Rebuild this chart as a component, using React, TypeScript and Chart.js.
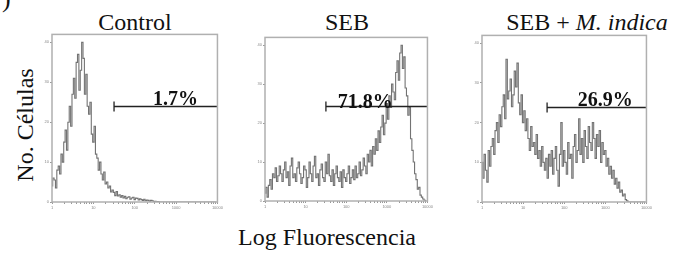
import React, { useEffect, useRef } from "react";
import { Chart, registerables } from "chart.js";

Chart.register(...registerables);

// ---------- DATA ----------
// Channel counts (120 channels = 4 log decades, 30 channels per decade)
const controlCounts = [
  4, 6, 5.5, 3.5, 8, 9, 7, 12, 10, 15,
  18, 13, 20, 24, 19, 27, 31, 26, 35, 37,
  28, 33, 40, 36, 27, 32, 24, 22, 25, 17,
  15, 19, 12, 11, 8, 10, 7, 5.5, 7.5, 4.5,
  5, 3.5, 4, 2.5, 3, 2.4, 1.6, 2.6, 1.5, 1.8,
  1.2, 1.6, 1, 1.4, 0.8, 1.2, 1.3, 0.7, 1, 1.2,
  0.6, 1, 0.9, 0.5, 0.8, 0.6, 0.4, 0.7, 0.3, 0.5,
  0.4, 0.2, 0.4, 0.3, 0.1, 0.2, 0, 0.1, 0, 0,
  0, 0, 0, 0, 0, 0, 0, 0, 0, 0,
  0, 0, 0, 0, 0, 0, 0, 0, 0, 0,
  0, 0, 0, 0, 0, 0, 0, 0, 0, 0,
  0, 0, 0, 0, 0, 0, 0, 0, 0, 0,
];

const sebCounts = [
  2, 3.5, 1, 4, 5.5, 3, 7, 6, 8.5, 5,
  6.5, 9, 7, 5, 8, 10, 6, 7.5, 4, 9,
  11, 6, 7, 5, 8.5, 10, 7, 4.5, 6, 9,
  8, 3.5, 6, 10, 7, 5, 9, 11.5, 6, 7,
  4, 8, 9.5, 6, 5, 10, 7, 12, 6.5, 5,
  8, 4, 7, 9, 6, 5, 7.5, 3.5, 8, 6,
  5, 7, 9, 4.5, 6, 8, 5.5, 9, 6, 7,
  10, 6.5, 8, 11, 9, 7, 12, 10, 13, 9,
  14, 12, 16, 13, 18, 15, 19, 22, 17, 20,
  25, 21, 27, 24, 30, 28, 26, 33, 36, 31,
  38, 40, 34, 37, 29, 27, 22, 24, 16, 13,
  10, 7, 5.5, 3, 3.5, 1.5, 1, 0.5, 0.2, 0,
];

const sebIndicaCounts = [
  10, 6, 12, 8, 5, 13, 9, 14, 16, 12,
  18, 20, 15, 22, 19, 24, 27, 21, 36, 26,
  28, 31, 24, 27, 33, 29, 35, 25, 22, 27,
  20, 23, 18, 21, 16, 13, 19, 14, 15, 12,
  17, 11, 13, 9, 14, 10, 8, 11, 6, 12,
  9, 13, 7, 11, 14, 8, 4, 12, 20, 9,
  13, 10, 7, 15, 11, 12, 6, 14, 17, 10,
  13, 21, 12, 16, 10, 18, 14, 11, 19, 15,
  13, 20, 16, 11, 17, 14, 18, 10, 15, 12,
  13, 9, 11, 7, 9, 6, 8, 4.5, 6, 3.5,
  5, 2.5, 3, 1.5, 2, 0.6, 0.3, 0, 0, 0,
  0, 0, 0, 0, 0, 0, 0, 0, 0, 0,
];

const decadeLabels = ["1", "10", "100", "1000", "10000"];
const yTickValues = [0, 10, 20, 30, 40];
const gatePercents = ["1.7%", "71.8%", "26.9%"];
const gateStarts = [45, 45, 47.5];
const gateLevels = [24, 24.4, 24];
const gateLabelCenters = [89.5, 74, 90];

// ---------- LAYOUT ----------
const AXIS_W = 8;
const AXIS_H = 10;
const PAD = 2;
const panels = [
  { counts: controlCounts, box: { l: 52, t: 33, r: 222, b: 202 }, lift: 2 },
  { counts: sebCounts, box: { l: 265, t: 36, r: 432, b: 201 }, lift: -1 },
  { counts: sebIndicaCounts, box: { l: 482, t: 34, r: 651, b: 202 }, lift: 2 },
];

const SERIF = "'Liberation Serif', 'Times New Roman', serif";

const framePlugin = {
  id: "frame",
  afterDraw(chart: any) {
    const { ctx, chartArea } = chart;
    ctx.save();
    ctx.strokeStyle = "#b0b0b0";
    ctx.lineWidth = 1.5;
    ctx.strokeRect(chartArea.left, chartArea.top, chartArea.right - chartArea.left, chartArea.bottom - chartArea.top);
    ctx.restore();
  },
};

const gatePlugin = {
  id: "gate",
  afterDatasetsDraw(chart: any, _args: any, opts: any) {
    const { ctx, scales } = chart;
    const xs = scales.x;
    const ys = scales.y;
    const x0 = xs.getPixelForValue(opts.start);
    const x1 = xs.getPixelForValue(opts.end);
    const yy = Math.round(ys.getPixelForValue(opts.level)) + 0.5;
    ctx.save();
    ctx.strokeStyle = "#222";
    ctx.lineWidth = 1.3;
    ctx.beginPath();
    ctx.moveTo(x0, yy);
    ctx.lineTo(x1, yy);
    ctx.moveTo(x0, yy - 5);
    ctx.lineTo(x0, yy + 5);
    ctx.stroke();
    ctx.fillStyle = "#111";
    ctx.font = "bold 20px " + SERIF;
    ctx.textAlign = "center";
    ctx.textBaseline = "alphabetic";
    ctx.fillText(opts.text, xs.getPixelForValue(opts.labelAt), yy - opts.lift);
    ctx.restore();
  },
};

function Histogram({ idx }: { idx: number }) {
  const ref = useRef<HTMLCanvasElement | null>(null);
  const p = panels[idx];
  const w = p.box.r - p.box.l + AXIS_W + PAD;
  const h = p.box.b - p.box.t + AXIS_H + PAD;

  useEffect(() => {
    if (!ref.current) return;
    const data = p.counts.map((v, i) => ({ x: i, y: v }));
    const chart = new Chart(ref.current, {
      type: "line",
      data: {
        datasets: [
          {
            data,
            borderColor: "rgba(80,80,80,0.8)",
            borderWidth: 1.1,
            pointRadius: 0,
            stepped: "middle",
            fill: false,
          } as any,
        ],
      },
      options: {
        animation: false,
        responsive: false,
        maintainAspectRatio: false,
        layout: { padding: { top: PAD, right: PAD, left: 0, bottom: 0 } },
        plugins: {
          legend: { display: false },
          tooltip: { enabled: false },
          gate: {
            start: gateStarts[idx],
            end: 120,
            level: gateLevels[idx],
            text: gatePercents[idx],
            labelAt: gateLabelCenters[idx],
            lift: p.lift,
          },
        } as any,
        scales: {
          x: {
            type: "linear",
            min: 0,
            max: 120,
            border: { display: false },
            grid: { drawOnChartArea: false, drawTicks: true, tickLength: 2, color: "#999" },
            afterBuildTicks: (scale: any) => {
              const t: any[] = [];
              for (let d = 0; d < 4; d++) {
                for (let k = 1; k <= 9; k++) t.push({ value: 30 * (d + Math.log10(k)) });
              }
              t.push({ value: 120 });
              scale.ticks = t;
            },
            afterFit: (scale: any) => {
              scale.height = AXIS_H;
            },
            ticks: {
              autoSkip: false,
              maxRotation: 0,
              padding: 1,
              font: { size: 4 },
              color: "#888",
              callback: (v: any) => {
                const n = Number(v) / 30;
                return Math.abs(n - Math.round(n)) < 1e-6 ? decadeLabels[Math.round(n)] : "";
              },
            },
          },
          y: {
            type: "linear",
            min: 0,
            max: 42,
            border: { display: false },
            grid: { drawOnChartArea: false, drawTicks: true, tickLength: 2, color: "#999" },
            afterBuildTicks: (scale: any) => {
              scale.ticks = yTickValues.map((v) => ({ value: v }));
            },
            afterFit: (scale: any) => {
              scale.width = AXIS_W;
            },
            ticks: {
              padding: 1,
              font: { size: 4 },
              color: "#888",
            },
          },
        },
      },
      plugins: [framePlugin, gatePlugin],
    } as any);
    return () => chart.destroy();
  }, []);

  return (
    <canvas
      ref={ref}
      width={w}
      height={h}
      style={{ position: "absolute", left: p.box.l - AXIS_W, top: p.box.t - PAD, width: w, height: h }}
    />
  );
}

const textBase: React.CSSProperties = {
  position: "absolute",
  fontFamily: SERIF,
  fontSize: 24,
  lineHeight: "24px",
  color: "#111",
  whiteSpace: "nowrap",
};

export default function App() {
  return (
    <div
      style={{
        position: "fixed",
        left: 0,
        top: 0,
        width: 673,
        height: 263,
        overflow: "hidden",
        background: "#fff",
      }}
    >
      <div style={{ ...textBase, left: 2, top: -13, fontSize: 26 }}>)</div>
      <div style={{ ...textBase, left: 135, top: 10, transform: "translateX(-50%)" }}>Control</div>
      <div style={{ ...textBase, left: 347, top: 10, transform: "translateX(-50%)" }}>SEB</div>
      <div style={{ ...textBase, left: 587, top: 10, transform: "translateX(-50%)" }}>
        SEB + <i>M. indica</i>
      </div>
      <div
        style={{
          ...textBase,
          left: 25,
          top: 125,
          transform: "translate(-50%, -50%) rotate(-90deg)",
        }}
      >
        No. Células
      </div>
      <div style={{ ...textBase, left: 327, top: 225, transform: "translateX(-50%)" }}>Log Fluorescencia</div>
      <Histogram idx={0} />
      <Histogram idx={1} />
      <Histogram idx={2} />
    </div>
  );
}
